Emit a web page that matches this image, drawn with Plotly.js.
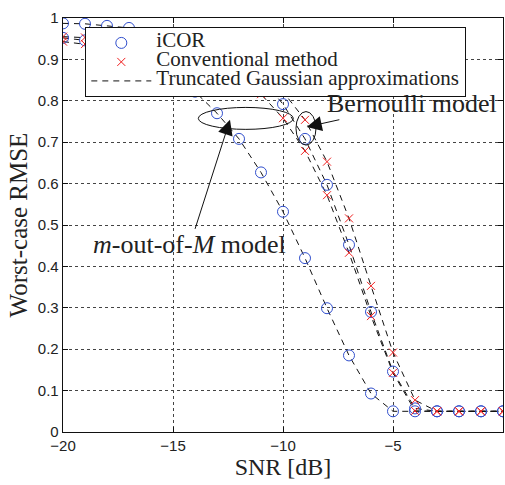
<!DOCTYPE html>
<html>
<head>
<meta charset="utf-8">
<script src="https://cdn.plot.ly/plotly-3.0.1.min.js"></script>
<style>
  html, body { margin: 0; padding: 0; background: #fff; }
  #chart { width: 505px; height: 485px; }
</style>
</head>
<body>
<div id="chart"></div>
<script>
// SNR grid, dB
const snr = [-20, -19, -18, -17, -16, -15, -14, -13, -12, -11, -10, -9, -8, -7, -6, -5, -4, -3, -2, -1, 0];

// m-out-of-M model, iCOR
const mIcor = [0.987, 0.986, 0.981, 0.976, 0.955, 0.900, 0.822, 0.770, 0.708, 0.627, 0.532,
               0.420, 0.299, 0.185, 0.093, 0.050, 0.050, 0.050, 0.050, 0.050, 0.050];
// Bernoulli model, iCOR
const bIcor = [0.952, 0.946, 0.942, 0.937, 0.931, 0.924, 0.915, 0.903, 0.885, 0.855, 0.792,
               0.708, 0.597, 0.452, 0.290, 0.146, 0.057, 0.050, 0.050, 0.050, 0.050];
// Bernoulli model, conventional method (two settings)
const convHi = [0.955, 0.953, 0.950, 0.947, 0.943, 0.938, 0.930, 0.918, 0.900, 0.870, 0.822,
                0.754, 0.653, 0.516, 0.353, 0.192, 0.077, 0.050, 0.050, 0.050, 0.050];
const convLo = [0.943, 0.937, 0.930, 0.922, 0.913, 0.902, 0.890, 0.876, 0.852, 0.816, 0.758,
                0.679, 0.572, 0.433, 0.280, 0.143, 0.051, 0.050, 0.050, 0.050, 0.050];

const legendNames = ["iCOR", "Conventional method", "Truncated Gaussian approximations"];

const serif = "Liberation Serif, Times New Roman, serif";
const sans = "Liberation Sans, Arial, sans-serif";
const blue = "rgb(50,80,205)";
const red = "rgb(240,30,30)";

// legend rows are sized by legend.font, so the text itself is set larger in a span
const big = s => `<span style="font-size:21px">${s}</span>`;

function approx(y, first) {
    return {
        x: snr, y, type: "scatter", mode: "lines", name: big(legendNames[2]),
        line: { color: "#111", width: 1, dash: "6px,5px" },
        showlegend: first, legendrank: 3,
    };
}
function icor(y, first) {
    return {
        x: snr, y, type: "scatter", mode: "markers", name: big(legendNames[0]),
        marker: { symbol: "circle-open", size: 11, color: blue, line: { width: 1, color: blue } },
        showlegend: first, legendrank: 1,
    };
}
function conv(y, first) {
    return {
        x: snr, y, type: "scatter", mode: "markers", name: big(legendNames[1]),
        marker: { symbol: "x-thin-open", size: 8, color: red, line: { width: 1, color: red } },
        showlegend: first, legendrank: 2,
    };
}

const traces = [
    approx(mIcor, true), approx(bIcor, false), approx(convHi, false), approx(convLo, false),
    icor(mIcor, true), icor(bIcor, false),
    conv(convHi, true), conv(convLo, false),
];

const axisBase = {
    ticks: "inside", ticklen: 5, tickwidth: 1, tickcolor: "#111",
    mirror: "allticks", showline: true, linecolor: "#111", linewidth: 1.3,
    showgrid: true, gridcolor: "#444", gridwidth: 1, griddash: "dot",
    zeroline: false, tickfont: { family: sans, size: 15, color: "#222" },
};

const layout = {
    width: 505, height: 485,
    margin: { l: 63, r: 2, t: 18, b: 53 },
    paper_bgcolor: "#fff", plot_bgcolor: "#fff",
    showlegend: true,
    legend: {
        x: 0.05, xanchor: "left", y: 0.978, yanchor: "top",
        bgcolor: "#fff", bordercolor: "#111", borderwidth: 1.3,
        font: { family: serif, size: 11, color: "#222" },
        itemwidth: 60, tracegroupgap: 0,
    },
    xaxis: {
        ...axisBase, range: [-20, 0], tick0: -20, dtick: 5,
        title: { text: "SNR [dB]", font: { family: serif, size: 24, color: "#222" }, standoff: 4 },
    },
    yaxis: {
        ...axisBase, range: [0, 1], tick0: 0, dtick: 0.1,
        title: { text: "Worst-case RMSE", font: { family: serif, size: 25, color: "#222" }, standoff: 3 },
    },
    shapes: [
        { type: "circle", xref: "x", yref: "y", x0: -13.85, x1: -9.53, y0: 0.731, y1: 0.784,
          line: { color: "#111", width: 1 } },
        { type: "circle", xref: "x", yref: "y", x0: -9.41, x1: -8.5, y0: 0.693, y1: 0.774,
          line: { color: "#111", width: 1 } },
    ],
    annotations: [
        { x: -12.41, y: 0.754, ax: -14.23, ay: 0.452, axref: "x", ayref: "y",
          text: "<i>m</i>-out-of-<i>M</i> model", showarrow: true,
          arrowhead: 2, arrowsize: 3, arrowwidth: 1, arrowcolor: "#111",
          font: { family: serif, size: 26, color: "#222" } },
        { x: -8.92, y: 0.737, ax: -4.14, ay: 0.793, axref: "x", ayref: "y",
          text: "Bernoulli model", showarrow: true,
          arrowhead: 2, arrowsize: 3, arrowwidth: 1, arrowcolor: "#111",
          font: { family: serif, size: 26, color: "#222" } },
    ],
};

Plotly.newPlot("chart", traces, layout, { displayModeBar: false, staticPlot: true });
</script>
</body>
</html>
